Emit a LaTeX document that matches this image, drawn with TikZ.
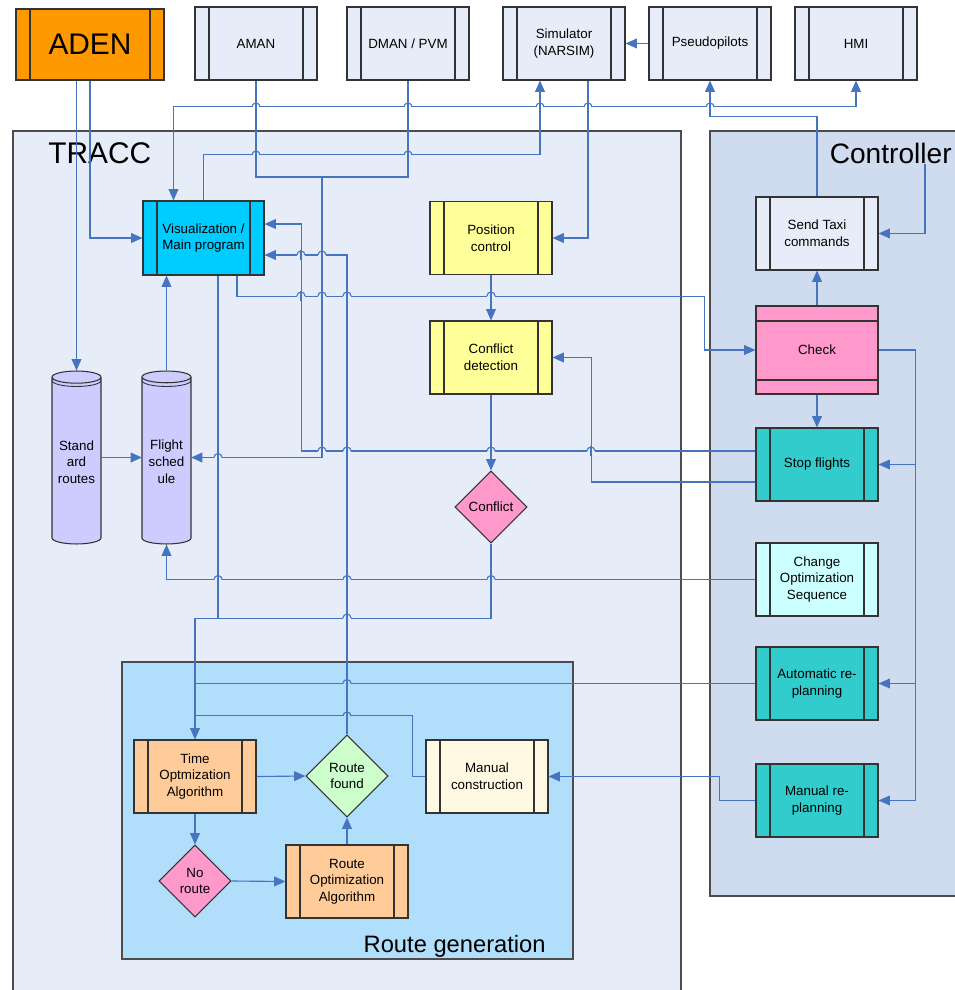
\documentclass[tikz,border=0pt]{standalone}
\usepackage{fontspec}
\setmainfont{Liberation Sans}
\usetikzlibrary{shapes.geometric,arrows.meta}

\definecolor{wireblue}{RGB}{70,116,193}
\definecolor{paleblue}{RGB}{231,237,248}
\definecolor{ctrlblue}{RGB}{207,219,238}
\definecolor{genblue}{RGB}{176,222,251}
\definecolor{adenorange}{RGB}{255,153,0}
\definecolor{viscyan}{RGB}{0,204,255}
\definecolor{paleyellow}{RGB}{255,255,153}
\definecolor{rosepink}{RGB}{255,153,204}
\definecolor{tealbox}{RGB}{51,204,204}
\definecolor{icecyan}{RGB}{204,255,255}
\definecolor{peach}{RGB}{255,204,153}
\definecolor{mint}{RGB}{204,255,204}
\definecolor{cream}{RGB}{255,248,226}
\definecolor{lavender}{RGB}{204,204,255}

\newcommand{\lbl}{\fontsize{7.6}{9.5}\selectfont}

\tikzset{
  wire/.style={draw=wireblue, line width=0.65pt},
  link/.style={wire, -{Triangle[length=6.5pt,width=5.6pt]}},
  bilink/.style={wire, {Triangle[length=6.5pt,width=5.6pt]}-{Triangle[length=6.5pt,width=5.6pt]}},
  box/.style={draw=black!80, line width=0.6pt, fill=paleblue, minimum width=2.44cm,
    minimum height=1.46cm, inner sep=1pt, align=center, font=\lbl},
  proc/.style={box,
    path picture={\draw[black!80]
      ([xshift=0.28cm]path picture bounding box.north west) -- ([xshift=0.28cm]path picture bounding box.south west)
      ([xshift=-0.28cm]path picture bounding box.north east) -- ([xshift=-0.28cm]path picture bounding box.south east);}},
  hproc/.style={box,
    path picture={\draw[black!80]
      ([yshift=-0.3cm]path picture bounding box.north west) -- ([yshift=-0.3cm]path picture bounding box.north east)
      ([yshift=0.28cm]path picture bounding box.south west) -- ([yshift=0.28cm]path picture bounding box.south east);}},
  decide/.style={diamond, draw=black!80, line width=0.6pt, fill=rosepink, minimum width=1.44cm,
    minimum height=1.44cm, inner sep=0pt, aspect=1, align=center, font=\lbl},
  store/.style={cylinder, shape border rotate=90, aspect=0.3, draw=black!80, line width=0.6pt,
    fill=lavender, minimum width=0.98cm, minimum height=3.46cm, inner sep=1pt, align=center,
    font=\lbl, anchor=shape center},
  group/.style={draw=black!70, line width=0.6pt},
}

% bump of a horizontal wire over a vertical one
\newcommand{\linejump}[3]{%
  \fill[#3] (#1-4,#2-1.3) rectangle (#1+4,#2+1.3);
  \draw[wire] (#1,#2-5) -- (#1,#2+5);
  \draw[wire] (#1-4,#2) arc[start angle=180,end angle=0,radius=0.08cm];}

\begin{document}
\begin{tikzpicture}[x=0.02cm, y=-0.02cm]
\useasboundingbox (0,0) rectangle (954,990);
% groups
\filldraw[group, fill=paleblue] (13,131) rectangle (681,996);
\filldraw[group, fill=ctrlblue] (710,131) rectangle (956,896);
\filldraw[group, fill=genblue] (122,662) rectangle (573,959);
\node[font=\fontsize{17}{20}\selectfont, anchor=base west, inner sep=0pt] (tracclbl) at (48,163) {TRACC};
\node[font=\fontsize{16}{19}\selectfont, anchor=base east, inner sep=0pt] (ctrllbl) at (952,163) {Controller};
\node[font=\fontsize{13.5}{16}\selectfont, anchor=base east, inner sep=0pt] (genlbl) at (546,952) {Route generation};

% outside systems
\node[proc, fill=adenorange, minimum width=2.96cm, minimum height=1.42cm, font=\fontsize{17}{20}\selectfont] (aden) at (90,44.5) {ADEN};
\node[proc] (aman) at (256,43.5) {AMAN};
\node[proc] (dman) at (408,43.5) {DMAN / PVM};
\node[proc] (sim) at (564,43.5) {Simulator\\(NARSIM)};
\node[proc] (pseudo) at (710,43.5) {Pseudopilots};
\node[proc] (hmi) at (856,43.5) {HMI};

% TRACC
\node[proc, fill=viscyan, minimum width=2.42cm, minimum height=1.48cm] (vis) at (203.5,238) {Visualization /\\Main program};
\node[proc, fill=paleyellow] (pos) at (491,238) {Position\\control};
\node[proc, fill=paleyellow] (cd) at (491,357.5) {Conflict\\detection};
\node[decide] (conf) at (491,507) {Conflict};
\node[store] (std) at (76.5,457.5) {Stand\\ard\\routes};
\node[store] (fs) at (166.5,457.5) {Flight\\sched\\ule};
\foreach \c in {std,fs}
  \draw[black!80, line width=0.5pt] ([xshift=-0.49cm,yshift=-0.2cm]\c.north) arc[start angle=180,end angle=360,x radius=0.49cm,y radius=0.12cm];

% Controller
\node[proc] (taxi) at (817,233.5) {Send Taxi\\commands};
\node[hproc, fill=rosepink, minimum height=1.76cm] (check) at (817,350) {Check};
\node[proc, fill=tealbox] (stop) at (817,464.5) {Stop flights};
\node[proc, fill=icecyan] (change) at (817,579.5) {Change\\Optimization\\Sequence};
\node[proc, fill=tealbox] (auto) at (817,683.5) {Automatic re-\\planning};
\node[proc, fill=tealbox] (manre) at (817,800.5) {Manual re-\\planning};

% Route generation
\node[proc, fill=peach] (toa) at (195,776.5) {Time\\Optmization\\Algorithm};
\node[decide, fill=mint, minimum width=1.64cm, minimum height=1.64cm] (found) at (347,776) {Route\\found};
\node[proc, fill=cream] (mc) at (487,776.5) {Manual\\construction};
\node[decide] (noroute) at (195,881) {No\\route};
\node[proc, fill=peach] (roa) at (347,881.5) {Route\\Optimization\\Algorithm};

% connectors
\coordinate (amanjoin) at (322,177);
\draw[link] (aden.south -| std.north) -- (std.north);
\draw[link] (aden.south) |- (vis.west);
\draw[wire] (aman.south) |- (amanjoin) -| (dman.south);
\draw[link] (amanjoin) |- ([xshift=0.49cm]fs.shape center);
\draw[link] (vis.north) -- ++(0,-46) -| ([xshift=-0.48cm]sim.south);
\draw[bilink] ([xshift=-0.6cm]vis.north) -- ++(0,-94) -| (hmi.south);
\draw[link] (taxi.north) -- ++(0,-80) -| (pseudo.south);
\draw[link] (pseudo.west) -- (sim.east);
\draw[link] ([xshift=-0.54cm]ctrllbl.south east) |- (taxi.east);
\draw[link] ([xshift=0.48cm]sim.south) |- (pos.east);
\draw[link] (pos.south) -- (cd.north);
\draw[link] (cd.south) -- (conf.north);
\draw[link] ([xshift=0.67cm]vis.south) -- ++(0,21) -| ([xshift=-1.02cm]check.west) -- (check.west);
\draw[link] (check.north) -- (taxi.south);
\draw[link] (check.south) -- (stop.north);
\draw[link] (check.east) -| ([xshift=0.74cm]manre.east) -- (manre.east);
\draw[link] ([xshift=0.74cm]stop.east) -- (stop.east);
\draw[link] ([xshift=0.74cm]auto.east) -- (auto.east);
\draw[link] ([yshift=-0.35cm]stop.west) -| ([xshift=0.78cm]cd.east) -- (cd.east);
\draw[link] ([yshift=0.27cm]stop.west) -| ([xshift=0.74cm,yshift=0.28cm]vis.east) -- ([yshift=0.28cm]vis.east);
\draw[link] (found.north) |- ([yshift=-0.34cm]vis.east);
\draw[link] (change.west) -| (fs.south);
\draw[link] (fs.north) -- (fs.north |- vis.south);
\draw[link] ([xshift=0.49cm]std.shape center) -- ([xshift=-0.49cm]fs.shape center);
\draw[link] (conf.south) -- ++(0,75) -| (toa.north);
\draw[wire] ([xshift=0.29cm]vis.south) -- ++(0,343);
\draw[wire] (auto.west) -- (auto.west -| toa.north);
\draw[wire] (mc.west) -- ++(-13,0) |- ([yshift=0.48cm]toa.north);
\draw[link] (manre.west) -- ++(-36,0) |- (mc.east);
\draw[link] (toa.east) -- (found.west);
\draw[link] (toa.south) -- (noroute.north);
\draw[link] (noroute.east) -- (roa.west);
\draw[link] (roa.north) -- (found.south);

% line jumps
\foreach \x in {256,408,540,588,710}
  \linejump{\x}{107}{white};
\foreach \x/\y in {256/155,408/155,301/255,322/255,301/296,322/296,347/296,491/296,
    322/451,347/451,491/451,591/451,218/457.5,218/579.5,347/579.5,491/579.5,347/618}
  \linejump{\x}{\y}{paleblue};
\foreach \y in {683.5,716}
  \linejump{347}{\y}{genblue};
\end{tikzpicture}
\end{document}
